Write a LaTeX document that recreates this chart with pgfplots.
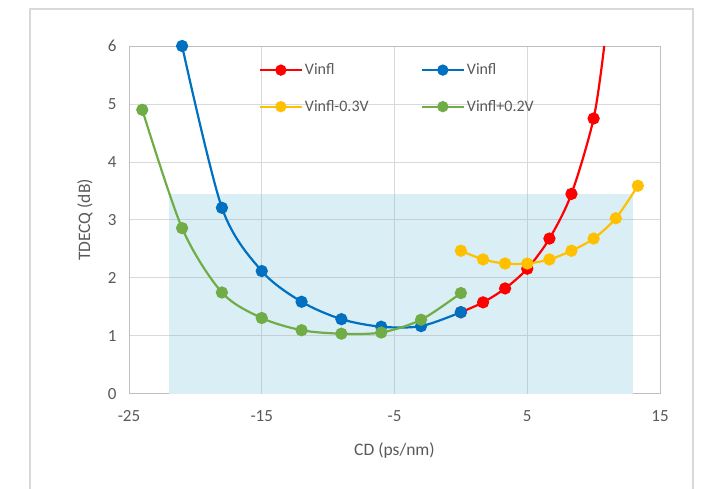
\documentclass[border=0pt]{standalone}
\usepackage{pgfplots}
\pgfplotsset{compat=1.18}
\usepackage{fontspec}
\setmainfont{Carlito}
\definecolor{txt}{RGB}{89,89,89}
\definecolor{gridc}{RGB}{217,217,217}
\definecolor{axc}{RGB}{191,191,191}
\definecolor{shadec}{RGB}{218,238,245}
\definecolor{cred}{RGB}{255,0,0}
\definecolor{cblue}{RGB}{0,112,192}
\definecolor{cyel}{RGB}{255,192,0}
\definecolor{cgreen}{RGB}{112,173,71}
\definecolor{framec}{RGB}{217,217,217}
\begin{document}
\begin{tikzpicture}[x=1pt,y=1pt]
\path[use as bounding box] (0,0) rectangle (703,489);
\draw[framec, line width=1.5pt] (30,0) -- (30,480) -- (693,480) -- (693,0);
\begin{axis}[
  at={(129pt,95pt)}, anchor=south west,
  scale only axis, width=531pt, height=348pt,
  xmin=-25, xmax=15, ymin=0, ymax=6,
  clip=false,
  xtick={-25,-15,-5,5,15}, xticklabels={-25,-15,-5,5,15},
  ytick={0,1,2,3,4,5,6}, yticklabels={0,1,2,3,4,5,6},
  major tick length=0pt,
  grid=major,
  major grid style={gridc, line width=1pt},
  axis line style={axc, line width=1pt},
  tick label style={font=\fontsize{17}{19}\selectfont, text=txt},
  xticklabel style={yshift=-13pt},
  yticklabel style={xshift=-9pt},
  xlabel={CD (ps/nm)}, ylabel={TDECQ (dB)},
  label style={font=\fontsize{17.5}{19}\selectfont, text=txt},
  xlabel style={at={(axis description cs:0.5,-0.161)}, anchor=center},
  ylabel style={at={(axis description cs:-0.083,0.5)}, anchor=center, rotate=0},
  legend columns=2,
  legend style={at={(axis description cs:0.244,0.955)}, anchor=north west,
    draw=none, fill=none, font=\fontsize{16}{18}\selectfont, text=txt,
    inner sep=0pt, row sep=20pt,
    /tikz/every even column/.append style={column sep=50pt}},
  legend cell align=left,
  legend image code/.code={%
    \draw[#1, mark=none] plot coordinates {(0pt,0pt) (42pt,0pt)};
    \draw[#1, mark size=4.5pt, mark=*, draw=none] plot coordinates {(21pt,0pt)};},
  every axis plot/.append style={line width=2.2pt, mark=*, mark size=5pt, smooth, tension=0.5},
]
\fill[shadec] (axis cs:-22,0) rectangle (axis cs:13,3.45);
\draw[gridc!85!shadec!70!black!100, line width=1pt, opacity=0.35] (axis cs:-15,0) -- (axis cs:-15,3.45)
  (axis cs:-5,0) -- (axis cs:-5,3.45) (axis cs:5,0) -- (axis cs:5,3.45)
  (axis cs:-22,1) -- (axis cs:13,1) (axis cs:-22,2) -- (axis cs:13,2) (axis cs:-22,3) -- (axis cs:13,3);
\addplot[cred, mark options={fill=cred}, mark indices={1,2,3,4,5,6,7}] coordinates {
 (0,1.41) (1.67,1.58) (3.33,1.82) (5,2.16) (6.67,2.68) (8.33,3.45) (10,4.75) (10.8,6.0)};
\addlegendentry{Vinfl}
\addplot[cblue, mark options={fill=cblue}] coordinates {
 (-21,6.0) (-18,3.21) (-15,2.12) (-12,1.59) (-9,1.29) (-6,1.16) (-3,1.17) (0,1.41)};
\addlegendentry{Vinfl}
\addplot[cyel, mark options={fill=cyel}] coordinates {
 (0,2.47) (1.67,2.32) (3.33,2.25) (5,2.25) (6.67,2.32) (8.33,2.47) (10,2.68) (11.67,3.03) (13.33,3.59)};
\addlegendentry{Vinfl-0.3V}
\addplot[cgreen, mark options={fill=cgreen}] coordinates {
 (-24,4.9) (-21,2.86) (-18,1.75) (-15,1.31) (-12,1.10) (-9,1.04) (-6,1.06) (-3,1.28) (0,1.74)};
\addlegendentry{Vinfl+0.2V}
\end{axis}
\end{tikzpicture}
\end{document}
